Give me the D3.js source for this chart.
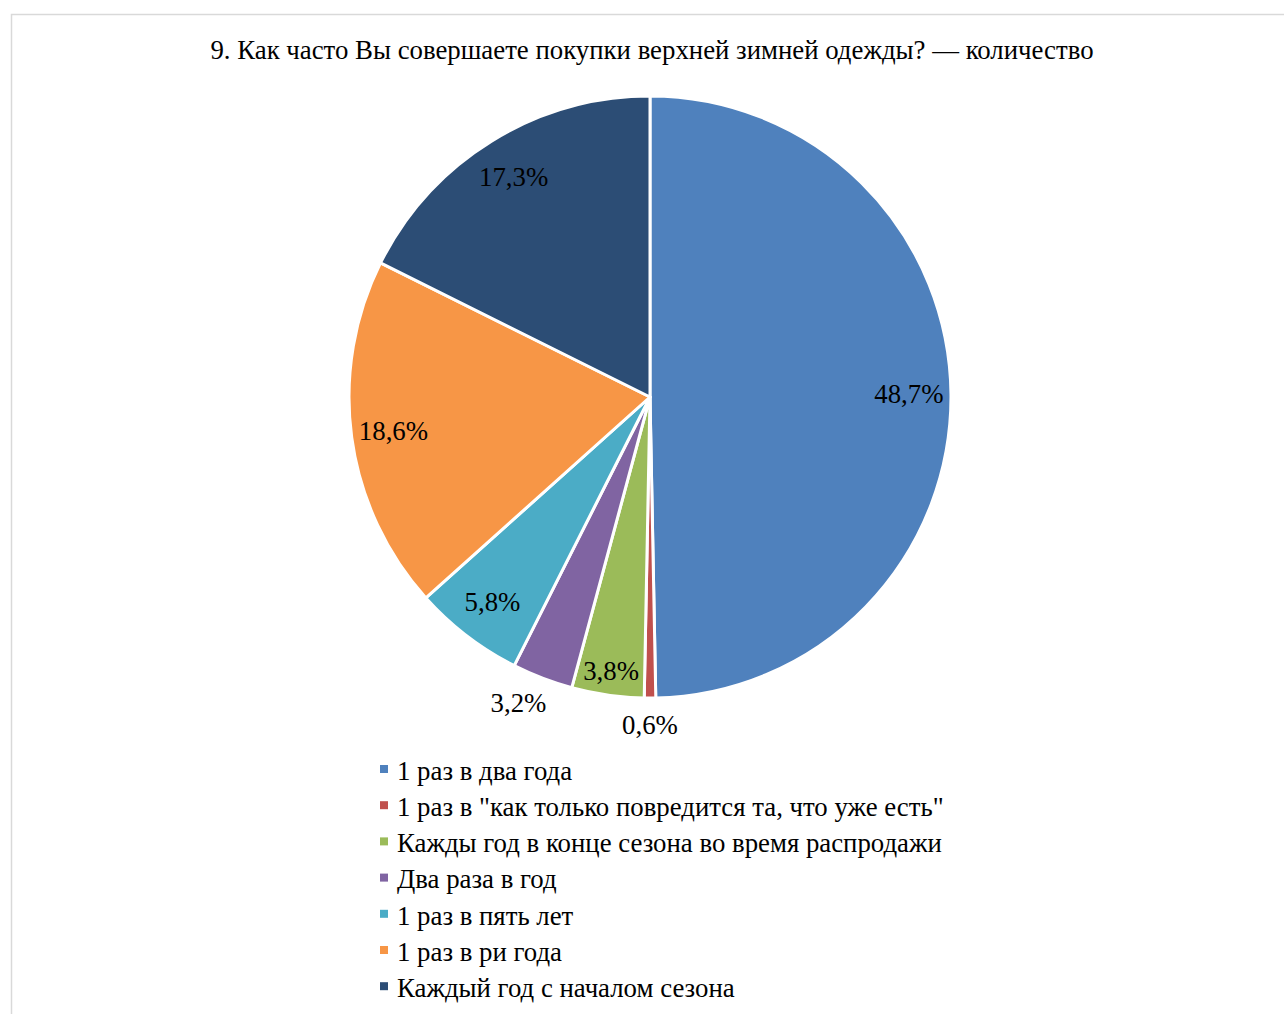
<!DOCTYPE html>
<html>
<head>
<meta charset="utf-8">
<script src="https://cdn.jsdelivr.net/npm/d3@7"></script>
<style>
  body { margin: 0; background: #fff; }
  svg { display: block; }
</style>
</head>
<body>
<div id="grafica"></div>
<script>
// Данные диаграммы
var titulo = "9. Как часто Вы совершаете покупки верхней зимней одежды? — количество";
var categorias = [
    "1 раз в два года",
    "1 раз в \"как только повредится та, что уже есть\"",
    "Кажды год в конце сезона во время распродажи",
    "Два раза в год",
    "1 раз в пять лет",
    "1 раз в ри года",
    "Каждый год с началом сезона"
];
var valores = [48.7, 0.6, 3.8, 3.2, 5.8, 18.6, 17.3];
var colores = ["#4F81BD", "#C0504D", "#9BBB59", "#8064A2", "#4BACC6", "#F79646", "#2C4D75"];

var ancho = 1284, alto = 1014;
var cx = 650, cy = 397, radio = 301;
var fuente = "'Liberation Serif', 'Times New Roman', serif";

var svg = d3.select("#grafica").append("svg")
    .attr("width", ancho)
    .attr("height", alto);

// marco del gráfico
svg.append("rect")
    .attr("x", 11.5).attr("y", 14.5)
    .attr("width", ancho + 20).attr("height", alto + 20)
    .attr("fill", "none")
    .attr("stroke", "#d9d9d9")
    .attr("stroke-width", 1.5);

svg.append("text")
    .attr("x", 652)
    .attr("y", 59)
    .attr("text-anchor", "middle")
    .style("font-family", fuente)
    .style("font-size", "26.8px")
    .style("fill", "#000")
    .text(titulo);

var color = d3.scaleOrdinal().domain(categorias).range(colores);

var pie = d3.pie().sort(null).value(function (d) { return d.value; });
var datos = pie(categorias.map(function (c, i) { return { key: c, value: valores[i] }; }));

var arc = d3.arc().innerRadius(0).outerRadius(radio);

var g = svg.append("g").attr("transform", "translate(" + cx + "," + cy + ")");

g.selectAll("path")
    .data(datos)
    .enter().append("path")
    .attr("d", arc)
    .attr("fill", function (d) { return color(d.data.key); })
    .attr("stroke", "#fff")
    .attr("stroke-width", 3)
    .attr("stroke-linejoin", "round");

// radio de la etiqueta según el tamaño del sector (parecido a "mejor ajuste")
function fraccion(d) {
    return (d.endAngle - d.startAngle) / (2 * Math.PI);
}
function radioEtiqueta(d) {
    var frac = fraccion(d);
    if (frac >= 0.05) return radio * 0.86;
    if (frac >= 0.037) return radio * 0.92;
    return radio * 1.09;
}

g.selectAll("text.etiqueta")
    .data(datos)
    .enter().append("text")
    .attr("class", "etiqueta")
    .attr("transform", function (d) {
        var r = radioEtiqueta(d);
        var a = (d.startAngle + d.endAngle) / 2;
        var x = Math.sin(a) * r, y = -Math.cos(a) * r;
        // las etiquetas de fuera se empujan un poco hacia el lado
        if (fraccion(d) < 0.037) x += Math.sin(a) * 40;
        return "translate(" + x + "," + y + ")";
    })
    .attr("dy", "0.32em")
    .attr("text-anchor", "middle")
    .style("font-family", fuente)
    .style("font-size", "26.8px")
    .style("fill", "#000")
    .text(function (d) { return String(d.data.value).replace(".", ",") + "%"; });

// leyenda
var leyenda = svg.append("g").attr("transform", "translate(380,771)");
var filas = leyenda.selectAll("g")
    .data(categorias)
    .enter().append("g")
    .attr("transform", function (d, i) { return "translate(0," + (i * 36.2) + ")"; });

filas.append("rect")
    .attr("x", 0).attr("y", -6)
    .attr("width", 8).attr("height", 8)
    .attr("fill", function (d) { return color(d); });

filas.append("text")
    .attr("x", 17)
    .attr("y", 0)
    .attr("dy", "0.33em")
    .style("font-family", fuente)
    .style("font-size", "26.8px")
    .style("fill", "#000")
    .text(function (d) { return d; });
</script>
</body>
</html>
